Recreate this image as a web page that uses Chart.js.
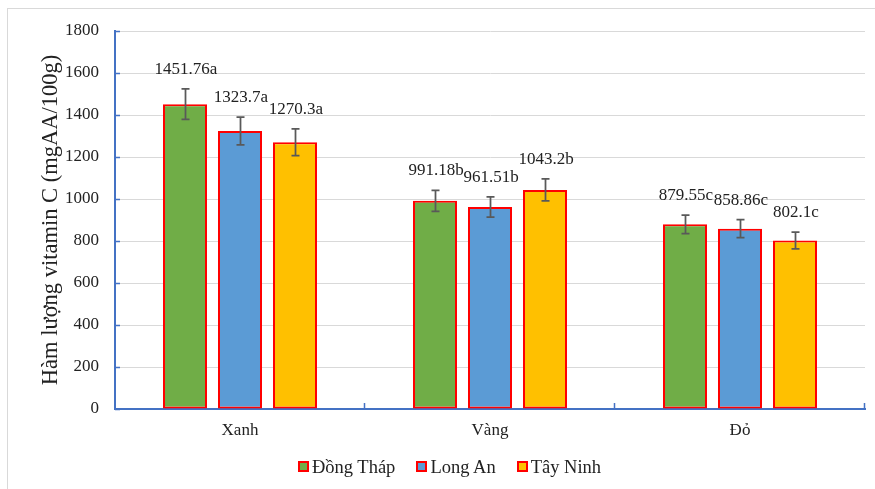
<!DOCTYPE html>
<html>
<head>
<meta charset="utf-8">
<script src="https://cdn.jsdelivr.net/npm/chart.js@4"></script>
<style>
  html, body { margin: 0; padding: 0; background: #fff; }
  #wrap { position: relative; width: 875px; height: 489px; }
  #legend {
    position: absolute; left: 0; right: 0; top: 457px;
    display: flex; justify-content: center; gap: 21px;
    font: 18.5px 'Liberation Serif', 'Times New Roman', serif; color: #222;
    padding-left: 24px;
  }
  #legend span.item { display: flex; align-items: center; }
  #legend span.box {
    width: 11px; height: 11px; box-sizing: border-box;
    border: 2px solid #ff0000; margin-right: 3px; margin-top: -2px;
  }
</style>
</head>
<body>
<div id="wrap">
  <canvas id="chart" width="875" height="489"></canvas>
  <div id="legend"></div>
</div>
<script>
(function () {
  'use strict';

  // ── Data ──
  const categories = ['Xanh', 'Vàng', 'Đỏ'];
  const seriesNames = ['Đồng Tháp', 'Long An', 'Tây Ninh'];
  const dongThap = [1451.76, 991.18, 879.55];
  const longAn = [1323.7, 961.51, 858.86];
  const tayNinh = [1270.3, 1043.2, 802.1];
  const errDongThap = [72.6, 49.6, 44.0];
  const errLongAn = [66.2, 48.1, 42.9];
  const errTayNinh = [63.5, 52.2, 40.1];
  const letters = ['a', 'b', 'c'];

  const FONT = "'Liberation Serif', 'Times New Roman', serif";
  const INK = '#222222';
  const AXIS = '#4472C4';
  const colors = ['#70AD47', '#5B9BD5', '#FFC000'];
  const values = [dongThap, longAn, tayNinh];
  const errors = [errDongThap, errLongAn, errTayNinh];

  // ── Legend (HTML) ──
  const legend = document.getElementById('legend');
  seriesNames.forEach((name, i) => {
    const item = document.createElement('span');
    item.className = 'item';
    const box = document.createElement('span');
    box.className = 'box';
    box.style.background = colors[i];
    item.appendChild(box);
    item.appendChild(document.createTextNode(name));
    legend.appendChild(item);
  });

  // ── Outer frame ──
  const framePlugin = {
    id: 'frame',
    beforeDraw(chart) {
      const ctx = chart.ctx;
      ctx.save();
      ctx.strokeStyle = '#D9D9D9';
      ctx.lineWidth = 1;
      ctx.strokeRect(7.5, 8.5, 900, 500);
      ctx.restore();
    }
  };

  // ── Inward tick marks on both axes ──
  const innerTicks = {
    id: 'innerTicks',
    afterDraw(chart) {
      const { ctx, chartArea: { left, right, bottom } } = chart;
      const y = chart.scales.y;
      const x = chart.scales.x;
      ctx.save();
      ctx.strokeStyle = AXIS;
      ctx.lineWidth = 1.5;
      ctx.beginPath();
      y.ticks.forEach(t => {
        const py = Math.round(y.getPixelForValue(t.value)) + 0.5;
        ctx.moveTo(left, py);
        ctx.lineTo(left + 5, py);
      });
      const step = (right - left) / x.ticks.length;
      for (let i = 1; i <= x.ticks.length; i++) {
        const px = Math.round(left + step * i) - 0.5;
        ctx.moveTo(px, bottom);
        ctx.lineTo(px, bottom - 6);
      }
      ctx.stroke();
      ctx.restore();
    }
  };

  // ── Error bars + value labels ──
  const errorBars = {
    id: 'errorBars',
    afterDatasetsDraw(chart) {
      const ctx = chart.ctx;
      const y = chart.scales.y;
      ctx.save();
      chart.data.datasets.forEach((ds, di) => {
        const meta = chart.getDatasetMeta(di);
        meta.data.forEach((bar, i) => {
          const v = ds.data[i];
          const e = errors[di][i];
          const top = y.getPixelForValue(v + e);
          const bot = y.getPixelForValue(v - e);
          const cx = Math.round(bar.x) + 0.5;
          ctx.strokeStyle = '#595959';
          ctx.lineWidth = 1.75;
          ctx.beginPath();
          ctx.moveTo(cx, top); ctx.lineTo(cx, bot);
          ctx.moveTo(cx - 4, top); ctx.lineTo(cx + 4, top);
          ctx.moveTo(cx - 4, bot); ctx.lineTo(cx + 4, bot);
          ctx.stroke();

          ctx.font = `17px ${FONT}`;
          ctx.fillStyle = INK;
          ctx.textAlign = 'center';
          ctx.textBaseline = 'alphabetic';
          ctx.fillText(v + letters[i], bar.x + 1, top - 15);
        });
      });
      ctx.restore();
    }
  };

  new Chart(document.getElementById('chart'), {
    type: 'bar',
    data: {
      labels: categories,
      datasets: seriesNames.map((name, i) => ({
        label: name,
        data: values[i],
        backgroundColor: colors[i],
        borderColor: '#FF0000',
        borderWidth: 2,
        borderSkipped: false,
        categoryPercentage: 0.66,
        barPercentage: 0.8
      }))
    },
    options: {
      responsive: false,
      animation: false,
      layout: { padding: { left: 0, right: 10, top: 31, bottom: 0 } },
      plugins: {
        legend: { display: false },
        tooltip: { enabled: false }
      },
      scales: {
        x: {
          grid: { display: false, drawTicks: false },
          border: { color: AXIS, width: 2 },
          ticks: { padding: 11, color: INK, font: { size: 17, family: FONT } },
          afterFit(scale) { scale.height = 80; }
        },
        y: {
          min: 0,
          max: 1800,
          ticks: {
            stepSize: 200, padding: 16, color: INK,
            font: { size: 17, family: FONT },
            callback: v => String(v)
          },
          grid: { color: '#D9D9D9', lineWidth: 1, drawTicks: false },
          border: { color: AXIS, width: 2 },
          title: {
            display: true,
            text: 'Hàm lượng vitamin C (mgAA/100g)',
            color: INK,
            font: { size: 22.5, family: FONT },
            padding: { top: 38, bottom: 0 }
          },
          afterFit(scale) { scale.width = 115; }
        }
      }
    },
    plugins: [framePlugin, innerTicks, errorBars]
  });
})();
</script>
</body>
</html>
